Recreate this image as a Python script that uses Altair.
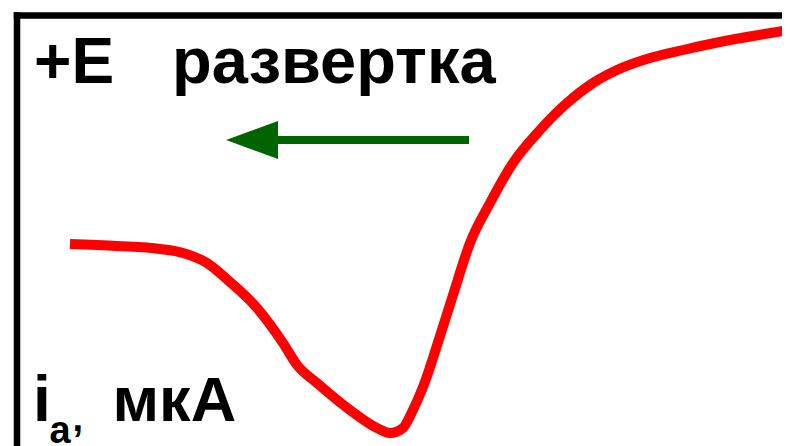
import altair as alt
import pandas as pd

# Curve: potential E (arbitrary units, left edge of frame = 0) and current i_a
curve_E = [53.5, 100.5, 143.5, 166.5, 190.5, 213.5, 240.5, 266.5, 280.5, 300.5, 333.5, 360.5,
           373.5, 386.5, 395.5, 406.5, 423.5, 436.5, 453.5, 473.5, 496.5, 523.5, 550.5, 576.5,
           600.5, 633.5, 666.5, 713.5, 766.5]
curve_I = [202, 200, 197, 193, 183, 164, 138, 103, 81, 63, 36, 18,
           13, 18, 34, 59, 110, 151, 203, 243, 283, 316, 343, 363,
           376, 388, 396, 406, 415]

# Scan-direction arrow (shaft and head)
arrow_shaft_E = [261.5, 452.5]
arrow_shaft_I = [306, 306]
arrow_head_E = [235.5]
arrow_head_I = [306]

# Text labels
label_text = ["+E", "развертка", "i", "a", ",", "мкА"]
label_E = [17.5, 155.5, 16.5, 33, 56, 96]
label_I = [363, 363, 25, 3, 15, 25]
label_size = [64, 65, 64, 38, 38, 63]

curve = pd.DataFrame({"E": curve_E, "I": curve_I})
shaft = pd.DataFrame({"E": arrow_shaft_E[:1], "E2": arrow_shaft_E[1:], "I": arrow_shaft_I[:1]})
head = pd.DataFrame({"E": arrow_head_E, "I": arrow_head_I})
labels = pd.DataFrame({"E": label_E, "I": label_I, "t": label_text, "s": label_size})

xs = alt.Scale(domain=[0, 765.5], nice=False, zero=False)
ys = alt.Scale(domain=[0, 431], nice=False, zero=False)

ax_x = alt.Axis(orient="top", domain=True, domainColor="black", domainWidth=6.5, domainCap="square",
                ticks=False, labels=False, grid=False, title=None)
ax_y = alt.Axis(orient="left", domain=True, domainColor="black", domainWidth=6.5, domainCap="square",
                ticks=False, labels=False, grid=False, title=None)

line = alt.Chart(curve).mark_line(color="#ff0000", strokeWidth=10, interpolate="monotone",
                                  strokeCap="butt", clip=False).encode(
    x=alt.X("E:Q", scale=xs, axis=ax_x),
    y=alt.Y("I:Q", scale=ys, axis=ax_y),
)

shaft_m = alt.Chart(shaft).mark_rule(color="#006400", strokeWidth=8, strokeCap="butt").encode(
    x=alt.X("E:Q", scale=xs), x2="E2:Q", y=alt.Y("I:Q", scale=ys)
)

head_m = alt.Chart(head).mark_point(
    shape="M-1,0L1,-0.73L1,0.73Z", size=2704, filled=True, color="#006400", opacity=1, strokeWidth=0
).encode(x=alt.X("E:Q", scale=xs), y=alt.Y("I:Q", scale=ys))

text_m = alt.Chart(labels).mark_text(
    font="Liberation Sans", fontWeight="bold", align="left", baseline="alphabetic", color="black"
).encode(
    x=alt.X("E:Q", scale=xs), y=alt.Y("I:Q", scale=ys), text="t:N",
    size=alt.Size("s:Q", scale=None, legend=None),
)

chart = alt.layer(line, shaft_m, head_m, text_m).properties(
    width=765.5, height=431,
    padding={"left": 8.5, "top": 7, "right": 0, "bottom": 0},
    autosize=alt.AutoSizeParams(type="none"),
).configure_view(stroke=None).configure(background="white")

chart.save("out.html", embed_options={"renderer": "svg", "actions": False})
